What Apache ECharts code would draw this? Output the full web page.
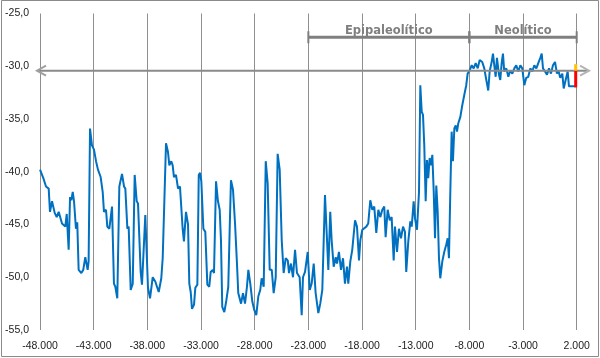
<!DOCTYPE html>
<html>
<head>
<meta charset="utf-8">
<script src="https://cdn.jsdelivr.net/npm/echarts@6/dist/echarts.min.js"></script>
<style>
html,body{margin:0;padding:0;background:#fff;}
#chart{width:600px;height:358px;}
</style>
</head>
<body>
<div id="chart"></div>
<script>
// ---- data (years, proxy temperature) ----
const years = [
-48000,-47690,-47440,-47190,-47070,-46880,-46630,-46445,-46260,-45950,-45640,-45510,-45330,-45200,-45080,-44950,-44830,-44650,-44530,-44400,-44150,-43970,-43780,-43560,-43470,
-43340,-43160,-42970,-42780,-42600,-42350,-42160,-42040,-41850,-41730,-41540,-41290,-41110,-40980,-40800,-40610,-40360,-40170,-40050,-39860,-39740,-39550,-39360,-39180,-38990,-38870,
-38620,-38500,-38380,-38190,-37940,-37750,-37500,-37260,-36940,-36700,-36570,-36260,-36080,-35950,-35770,-35640,-35520,-35330,-35140,-34960,-34710,-34590,-34400,-34210,-34090,-33960,
-33840,-33650,-33530,-33340,-33210,-33090,-32970,-32780,-32600,-32410,-32230,-32100,-31910,-31790,-31600,-31420,-31260,-31140,-31020,-30830,-30640,-30460,-30330,-30210,-30020,-29830,
-29650,-29530,-29270,-29090,-28900,-28720,-28590,-28410,-28220,-28040,-27850,-27660,-27480,-27350,-27160,-26970,-26790,-26600,-26410,-26230,-26040,-25860,-25670,-25480,-25300,-25110,
-24920,-24800,-24620,-24430,-24240,-24060,-23810,-23620,-23500,-23310,-23060,-22870,-22690,-22500,-22320,-22070,-21890,-21700,-21450,-21260,-21140,-20960,-20830,-20640,-20450,-20330,
-20150,-19960,-19770,-19590,-19400,-19280,-19090,-18910,-18650,-18470,-18280,-18160,-17970,-17790,-17600,-17420,-17230,-17040,-16860,-16670,-16480,-16300,-16110,-15930,-15800,-15610,
-15420,-15240,-15050,-14930,-14740,-14560,-14370,-14180,-14000,-13880,-13690,-13500,-13370,-13190,-13070,-12880,-12690,-12570,-12440,-12320,-12200,-12070,-11950,-11830,-11700,-11570,
-11450,-11320,-11200,-11080,-10950,-10830,-10710,-10520,-10340,-10150,-10020,-9900,-9780,-9650,-9530,-9400,-9270,-9150,-9030,-8840,-8660,-8470,-8290,-8160,-7970,-7780,-7600,-7410,
-7220,-7040,-6800,-6610,-6420,-6240,-6110,-5920,-5800,-5680,-5550,-5430,-5240,-5120,-4990,-4870,-4750,-4560,-4370,-4190,-4000,-3810,-3630,-3440,-3250,-3070,-2880,-2700,-2510,-2320,
-2140,-1950,-1760,-1580,-1390,-1260,-1140,-950,-770,-580,-400,-210,-20,160,290,470,660,790,970,1160,1280,1530,1950
];
const temps = [
-39.8,-40.6,-41.4,-41.6,-43.8,-42.8,-43.9,-44.3,-43.8,-44.9,-45.2,-44.0,-47.4,-42.4,-42.7,-41.9,-42.8,-45.4,-44.8,-49.3,-49.6,-49.3,-48.1,-49.3,-48.5,
-35.9,-37.5,-37.9,-39.0,-39.8,-40.5,-41.9,-43.8,-43.6,-45.2,-45.4,-43.3,-50.6,-50.9,-52.0,-41.4,-40.2,-41.4,-41.6,-45.4,-45.2,-51.2,-50.6,-40.3,-42.8,-43.0,
-49.5,-50.7,-48.2,-44.1,-51.0,-52.0,-50.0,-50.4,-51.4,-50.1,-48.2,-37.3,-38.1,-39.4,-39.0,-39.4,-40.5,-40.3,-41.6,-41.4,-45.4,-46.6,-43.8,-45.0,-50.6,-51.4,
-53.0,-52.6,-51.0,-50.7,-40.3,-40.1,-40.9,-45.4,-45.7,-50.7,-50.9,-49.5,-49.3,-49.6,-40.9,-42.8,-43.6,-46.5,-52.8,-53.3,-52.2,-50.9,-45.5,-40.8,-41.7,-44.9,
-48.7,-51.5,-52.5,-51.5,-52.5,-50.9,-49.3,-50.6,-52.3,-53.1,-53.6,-51.8,-51.2,-50.1,-50.9,-39.0,-41.1,-49.3,-49.3,-51.5,-50.0,-38.3,-39.8,-46.5,-49.6,-48.2,
-48.4,-49.6,-48.7,-50.0,-47.4,-49.6,-50.0,-53.6,-50.0,-49.5,-47.6,-51.2,-50.6,-48.7,-51.5,-53.4,-52.5,-51.2,-42.2,-46.5,-49.3,-43.8,-46.5,-49.0,-48.1,-48.7,
-47.6,-49.3,-48.2,-50.6,-49.0,-50.6,-48.5,-47.4,-44.6,-45.2,-48.4,-46.5,-45.5,-45.5,-45.2,-44.9,-42.7,-43.6,-43.3,-45.8,-43.6,-44.3,-43.6,-43.3,-46.2,-43.6,
-44.6,-44.3,-48.4,-45.2,-47.6,-45.4,-46.3,-45.2,-45.7,-49.5,-46.6,-44.7,-45.2,-42.8,-44.4,-45.5,-41.9,-31.8,-34.3,-34.6,-37.5,-42.8,-38.9,-40.6,-38.7,-39.4,
-38.4,-41.9,-46.3,-41.3,-43.8,-48.2,-50.1,-48.5,-47.6,-46.9,-46.3,-48.2,-42.2,-36.2,-39.0,-35.9,-35.6,-36.2,-35.4,-34.8,-33.7,-32.7,-31.8,-30.7,-30.4,-29.9,-30.2,-29.7,
-30.2,-29.4,-29.6,-30.2,-31.3,-32.3,-30.5,-29.6,-28.8,-29.9,-31.0,-29.2,-30.8,-31.3,-29.7,-28.8,-30.5,-30.2,-31.0,-30.4,-30.7,-30.2,-29.9,-30.5,-29.9,-30.2,-31.8,-31.1,-31.0,-30.2,
-30.5,-29.9,-30.2,-29.7,-29.2,-28.8,-30.2,-30.5,-30.8,-30.2,-30.7,-29.9,-29.6,-30.7,-30.4,-31.1,-30.7,-32.1,-31.3,-30.5,-31.9,-31.9,-31.9
];
const xTicks = [-48000,-43000,-38000,-33000,-28000,-23000,-18000,-13000,-8000,-3000,2000];
const yMin = -55, yMax = -25, yStep = 5;
const periods = [
  {name: 'Epipaleolítico', from: -23000, to: -8000},
  {name: 'Neolítico', from: -8000, to: 2000}
];
const bracketLevel = -27.25;
const arrowLevel = -30.42;
const arrowFrom = -48280, arrowTo = 3150;
const presentYear = 2000, presentLow = -32.0, presentHigh = -30.42, presentTop = -29.9;

const fmtX = v => (v < 0 ? '-' : '') + String(Math.abs(v)).replace(/\B(?=(\d{3})+(?!\d))/g, '.');
const fmtY = v => v.toFixed(1).replace('.', ',');

const chart = echarts.init(document.getElementById('chart'), null, {renderer: 'canvas'});
const font = "'Liberation Sans', Arial, sans-serif";
chart.setOption({
  animation: false,
  grid: {left: 40, right: 23.3, top: 13.5, bottom: 28, containLabel: false},
  xAxis: {
    type: 'value', min: xTicks[0], max: xTicks[xTicks.length - 1],
    axisLine: {show: false},
    axisTick: {show: false, customValues: xTicks},
    axisLabel: {customValues: xTicks, formatter: fmtX, fontSize: 10.5, color: '#222', fontFamily: font, margin: 11, showMinLabel: true, showMaxLabel: true},
    splitLine: {show: true, customValues: xTicks, lineStyle: {color: '#8f8f8f', width: 1}}
  },
  yAxis: {
    type: 'value', min: yMin, max: yMax, interval: yStep,
    axisLine: {show: false}, axisTick: {show: false},
    axisLabel: {formatter: fmtY, fontSize: 10.5, color: '#222', fontFamily: font, margin: 11},
    splitLine: {show: false}
  },
  series: [{
    type: 'line',
    data: years.map((y, i) => [y, temps[i]]),
    showSymbol: false,
    lineStyle: {color: '#0070C0', width: 2},
    itemStyle: {color: '#0070C0'}
  }]
});

function px(x, y) { return chart.convertToPixel({gridIndex: 0}, [x, y]); }
const g = [];
g.push({type: 'rect', shape: {x: 1.5, y: 0.5, width: 597, height: 356}, style: {fill: 'none', stroke: '#8a8a8a', lineWidth: 1}, silent: true});
// horizontal arrow
const a0 = px(arrowFrom, arrowLevel), a1 = px(arrowTo, arrowLevel);
g.push({type: 'line', shape: {x1: a0[0], y1: a0[1], x2: a1[0] - 1, y2: a1[1]}, style: {stroke: '#8a8a8a', lineWidth: 2}, z: 5});
g.push({type: 'polyline', shape: {points: [[a0[0] + 9, a0[1] - 5], [a0[0], a0[1]], [a0[0] + 9, a0[1] + 5]]}, style: {stroke: '#a0a0a0', lineWidth: 2, fill: 'none'}, z: 5});
g.push({type: 'polyline', shape: {points: [[a1[0] - 9, a1[1] - 5], [a1[0], a1[1]], [a1[0] - 9, a1[1] + 5]]}, style: {stroke: '#b4b4b4', lineWidth: 2, fill: 'none'}, z: 5});
// period brackets
periods.forEach(p => {
  const s = px(p.from, bracketLevel), e = px(p.to, bracketLevel);
  g.push({type: 'line', shape: {x1: s[0], y1: s[1], x2: e[0], y2: e[1]}, style: {stroke: '#7f7f7f', lineWidth: 3}, z: 6});
  [s, e].forEach(q => g.push({type: 'line', shape: {x1: q[0], y1: q[1] - 6, x2: q[0], y2: q[1] + 6}, style: {stroke: '#7f7f7f', lineWidth: 2}, z: 6}));
  g.push({type: 'text', x: (s[0] + e[0]) / 2, y: s[1] - 6, style: {text: p.name, fill: '#7f7f7f', font: "bold 11.5px 'DejaVu Sans', Verdana, sans-serif", align: 'center', verticalAlign: 'middle'}, z: 7});
});
// present marker
const r0 = px(presentYear, presentLow), r1 = px(presentYear, presentHigh), r2 = px(presentYear, presentTop);
g.push({type: 'line', shape: {x1: r0[0] - 1, y1: r0[1], x2: r1[0] - 1, y2: r1[1]}, style: {stroke: '#ff0000', lineWidth: 3}, z: 8});
g.push({type: 'line', shape: {x1: r1[0] - 1, y1: r1[1], x2: r2[0] - 1, y2: r2[1] - 1}, style: {stroke: '#ffc000', lineWidth: 3}, z: 8});
chart.setOption({graphic: g});
</script>
</body>
</html>
